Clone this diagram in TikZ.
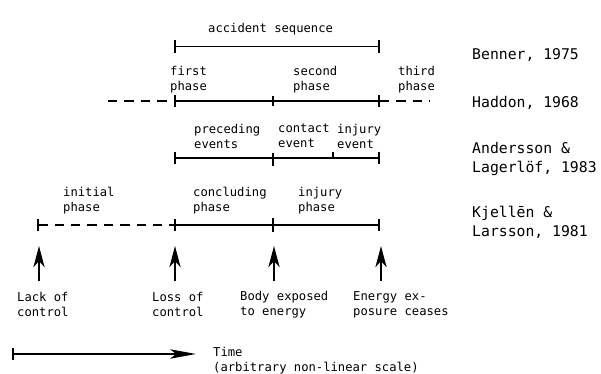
\documentclass[tikz,border=0pt]{standalone}
\usepackage{fontspec}
\setmainfont{DejaVu Sans Mono}
\usepackage{tikz}
\usetikzlibrary{graphs}
\usetikzlibrary{arrows.meta}

\tikzset{
    lbl/.style={anchor=west, inner sep=0pt, align=left, font=\fontsize{10.4}{12.8}\selectfont},
    author/.style={anchor=west, inner sep=0pt, align=left, font=\fontsize{12.6}{15.8}\selectfont},
    phaseline/.style={line width=1.7pt},
    gapline/.style={line width=1.4pt, dash pattern=on 8pt off 6pt},
    tickends/.style={{Bar[width=11pt]}-{Bar[width=11pt]}},
    marker/.style={line width=1.8pt, -{Stealth[length=18pt, width=9.5pt, inset=5pt]}},
}

\begin{document}
\begin{tikzpicture}[x=0.03cm, y=-0.03cm]
    \useasboundingbox (0,0) rectangle (601,374);

    % time points on each line
    \coordinate (bs) at (174, 46.5);
    \coordinate (be) at (380, 46.5);
    \coordinate (hl) at (108, 101);
    \coordinate (hs) at (174, 101);
    \coordinate (hm) at (273, 101);
    \coordinate (he) at (380, 101);
    \coordinate (hr) at (430, 101);
    \coordinate (as) at (174, 158);
    \coordinate (am) at (273, 158);
    \coordinate (ai) at (333, 158);
    \coordinate (ae) at (380, 158);
    \coordinate (ks) at (37, 225);
    \coordinate (kc) at (174, 225);
    \coordinate (km) at (273, 225);
    \coordinate (ke) at (380, 225);

    % event arrows
    \coordinate (lack_b) at (39, 281);
    \coordinate (lack_t) at (39, 246);
    \coordinate (loss_b) at (175, 281);
    \coordinate (loss_t) at (175, 246);
    \coordinate (body_b) at (274, 281);
    \coordinate (body_t) at (274, 246);
    \coordinate (ceas_b) at (381, 281);
    \coordinate (ceas_t) at (381, 246);

    \coordinate (t0) at (12, 354);
    \coordinate (t1) at (196, 354);

    % labels
    \node[lbl] (seq) at (208, 29) {accident sequence};
    \node[lbl] (first) at (170, 79.5) {first\\phase};
    \node[lbl] (second) at (293, 79.5) {second\\phase};
    \node[lbl] (third) at (398, 79.5) {third\\phase};
    \node[lbl] (preceding) at (194, 136) {preceding\\events};
    \node[lbl] (contact) at (278, 136) {contact\\event};
    \node[lbl] (injev) at (337, 136) {injury\\event};
    \node[lbl] (initial) at (63, 200.5) {initial\\phase};
    \node[lbl] (concluding) at (193, 200.5) {concluding\\phase};
    \node[lbl] (injph) at (298, 200.5) {injury\\phase};
    \node[lbl] (lack) at (17, 304.5) {Lack of\\control};
    \node[lbl] (loss) at (152, 304.5) {Loss of\\control};
    \node[lbl] (body) at (240, 304.5) {Body exposed\\to energy};
    \node[lbl] (ceases) at (353, 304.5) {Energy ex-\\posure ceases};
    \node[lbl] (time) at (213, 360.5) {Time\\(arbitrary non-linear scale)};

    \node[author] (benner) at (472, 55) {Benner, 1975};
    \node[author] (haddon) at (472, 103) {Haddon, 1968};
    \node[author] (andersson) at (472, 159) {Andersson \&\\Lagerlöf, 1983};
    \node[author] (kjellen) at (472, 222.5) {Kjellēn \&\\Larsson, 1981};

    % lines
    \graph {(bs) --[phaseline, tickends] (be)};
    \graph {(hl) --[gapline] (hs)};
    \graph {(hs) --[phaseline, tickends] (he)};
    \graph {(he) --[gapline] (hr)};
    \graph {(as) --[phaseline, tickends] (ae)};
    \graph {(ks) --[gapline, {Bar[width=10pt]}-] (kc)};
    \graph {(kc) --[phaseline, tickends] (ke)};
    \draw[phaseline] (hm) ++(0,-5) -- ++(0,10);
    \draw[phaseline] (am) ++(0,-5) -- ++(0,13);
    \draw[phaseline] (ai) -- ++(0,-6);
    \draw[phaseline] (km) ++(0,-7) -- ++(0,14);

    \graph {(lack_b) --[marker] (lack_t)};
    \graph {(loss_b) --[marker] (loss_t)};
    \graph {(body_b) --[marker] (body_t)};
    \graph {(ceas_b) --[marker] (ceas_t)};

    \graph {(t0) --[phaseline, {Bar[width=10pt]}-{Stealth[length=22pt, width=8pt, inset=5pt]}] (t1)};
\end{tikzpicture}
\end{document}
